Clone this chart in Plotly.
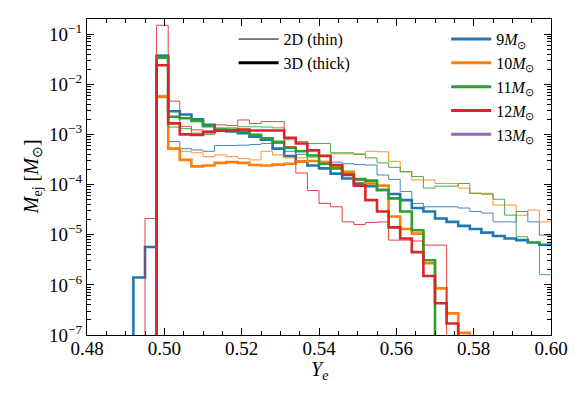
import numpy as np
import plotly.graph_objects as go

# Ye bin edges (0.003 wide) shared by all histograms
ye_edges = np.linspace(0.48, 0.60, 41)

# ejecta mass per Ye bin [Msun]; 0 = empty bin
m9_2d = [0, 0, 0, 0, 0, 0, 3.8e-2, 7.2e-4, 5.2e-4, 4.9e-4, 4.6e-4, 6.0e-4, 6.0e-4, 6.1e-4,
         6.3e-4, 6.6e-4, 6.6e-4, 4.6e-4, 4.0e-4, 3.0e-4, 2.9e-4, 2.8e-4, 2.6e-4, 2.5e-4,
         2.45e-4, 1.55e-4, 1.27e-4, 7.3e-5, 4.2e-5, 3.6e-5, 3.6e-5, 3.6e-5, 3.4e-5, 2.9e-5,
         2.7e-5, 1.8e-5, 1.8e-5, 2.9e-5, 1.8e-5, 9.8e-6]
m9_3d = [0, 0, 0, 0, 1.4e-6, 5.7e-6, 3.7e-2, 2.9e-3, 2.5e-3, 2.0e-3, 1.55e-3, 1.23e-3, 1.14e-3,
         1.06e-3, 9.0e-4, 7.8e-4, 5.2e-4, 3.7e-4, 2.9e-4, 2.4e-4, 2.1e-4, 1.65e-4, 1.32e-4,
         1.05e-4, 9.3e-5, 7.8e-5, 6.5e-5, 4.9e-5, 3.4e-5, 2.9e-5, 2.1e-5, 1.8e-5, 1.5e-5,
         1.3e-5, 1.1e-5, 9.4e-6, 8.4e-6, 7.8e-6, 7.0e-6, 6.3e-6]
m10_2d = [0, 0, 0, 0, 0, 0, 6.0e-3, 5.4e-4, 4.6e-4, 4.3e-4, 3.6e-4, 3.9e-4, 3.6e-4, 3.3e-4,
          3.1e-4, 4.6e-4, 3.9e-4, 3.4e-4, 3.4e-4, 3.5e-4, 3.9e-4, 4.1e-4, 4.1e-4, 4.1e-4,
          4.6e-4, 4.5e-4, 2.9e-4, 1.8e-4, 1.23e-4, 1.23e-4, 1.05e-4, 1.05e-4, 8.5e-5, 6.7e-5,
          6.7e-5, 3.9e-5, 3.9e-5, 2.45e-5, 3.1e-5, 1.8e-5]
m10_3d = [0, 0, 0, 0, 0, 0, 5.6e-3, 5.2e-4, 3.1e-4, 2.3e-4, 2.4e-4, 2.7e-4, 2.8e-4, 2.7e-4,
          2.45e-4, 2.4e-4, 2.5e-4, 2.6e-4, 2.9e-4, 2.95e-4, 2.8e-4, 2.3e-4, 1.8e-4, 1.23e-4,
          1.05e-4, 9.5e-5, 2.3e-5, 1.3e-5, 1.05e-5, 2.7e-6, 8.5e-7, 2.7e-7, 1.1e-7, 0,
          0, 0, 0, 0, 0, 0]
m11_2d = [0, 0, 0, 0, 0, 0, 3.4e-2, 1.4e-3, 1.3e-3, 1.06e-3, 1.0e-3, 1.35e-3, 1.35e-3, 1.42e-3,
          1.42e-3, 1.4e-3, 1.35e-3, 7.8e-4, 7.2e-4, 6.6e-4, 6.6e-4, 4.3e-4, 4.3e-4, 4.0e-4,
          3.4e-4, 2.7e-4, 2.2e-4, 1.8e-4, 1.45e-4, 8.5e-5, 9.3e-5, 9.3e-5, 1.05e-4, 6.7e-5,
          6.4e-5, 5.1e-5, 2.45e-5, 9.1e-6, 7.0e-6, 1.6e-6]
m11_3d = [0, 0, 0, 0, 0, 0, 3.4e-2, 2.25e-3, 2.1e-3, 1.85e-3, 1.45e-3, 1.23e-3, 1.23e-3,
          1.14e-3, 9.8e-4, 8.4e-4, 7.1e-4, 5.4e-4, 4.6e-4, 3.8e-4, 2.6e-4, 2.1e-4, 1.6e-4,
          1.28e-4, 1.2e-4, 7.8e-5, 5.3e-5, 2.9e-5, 1.23e-5, 3.1e-6, 0, 0, 0, 0,
          0, 0, 0, 0, 0, 0]
m12_2d = [0, 0, 0, 0, 0, 2.1e-5, 1.5e-1, 4.6e-3, 1.45e-3, 1.23e-3, 1.18e-3, 1.55e-3, 1.5e-3,
          1.94e-3, 1.65e-3, 1.8e-3, 1.8e-3, 5.7e-4, 1.7e-4, 7.6e-5, 4.2e-5, 3.6e-5, 1.8e-5,
          1.6e-5, 1.75e-5, 1.8e-5, 7.8e-6, 7.8e-6, 7.5e-6, 6.2e-6, 6.2e-6, 0, 0, 0,
          0, 0, 0, 0, 0, 0]
m12_3d = [0, 0, 0, 0, 0, 0, 2.4e-2, 1.66e-3, 1.0e-3, 9.8e-4, 1.1e-3, 1.18e-3, 1.2e-3, 1.25e-3,
          1.2e-3, 1.2e-3, 1.2e-3, 8.6e-4, 6.6e-4, 4.8e-4, 3.7e-4, 2.45e-4, 1.55e-4, 9.5e-5,
          4.9e-5, 2.9e-5, 1.4e-5, 8.4e-6, 4.5e-6, 1.5e-6, 4.3e-7, 1.7e-7, 0, 0,
          0, 0, 0, 0, 0, 0]

models = ["9", "10", "11", "12", "13"]
colors = ["#1f77b4", "#ff7f0e", "#2ca02c", "#d62728", "#9467bd"]
runs = [(m9_2d, m9_3d), (m10_2d, m10_3d), (m11_2d, m11_3d), (m12_2d, m12_3d)]

FONT = "Liberation Serif"


def step_y(vals):
    # empty bins pushed far below the axis so the step drops out of view
    v = [x if x > 0 else 1e-12 for x in vals]
    return v + [v[-1]]


fig = go.Figure()

for (v2d, v3d), c in zip(runs, colors):
    fig.add_trace(go.Scatter(x=ye_edges, y=step_y(v2d), mode="lines", line_shape="hv",
                             line=dict(color=c, width=1), opacity=0.85, showlegend=False))
    fig.add_trace(go.Scatter(x=ye_edges, y=step_y(v3d), mode="lines", line_shape="hv",
                             line=dict(color=c, width=2.6), showlegend=False))

# legend: line style
fig.add_trace(go.Scatter(x=[None], y=[None], mode="lines", name="2D (thin)",
                         line=dict(color="black", width=1), legend="legend"))
fig.add_trace(go.Scatter(x=[None], y=[None], mode="lines", name="3D (thick)",
                         line=dict(color="black", width=3), legend="legend"))
# legend: progenitor mass
for m, c in zip(models, colors):
    fig.add_trace(go.Scatter(x=[None], y=[None], mode="lines",
                             name=f"{m}<i>M</i><sub>⊙</sub>",
                             line=dict(color=c, width=3), legend="legend2"))

decades = [1e-7, 1e-6, 1e-5, 1e-4, 1e-3, 1e-2, 1e-1]
minor_y = [k * d for d in decades[:-1] for k in range(2, 10)] + [0.2]

# the html page adds an 8px body margin, so the figure is a bit smaller than the window
fig.update_layout(
    width=573, height=387,
    margin=dict(l=79, r=30, t=11, b=60),
    paper_bgcolor="white", plot_bgcolor="white",
    font=dict(family=FONT, size=19, color="black"),
    legend=dict(x=0.316, y=0.99, xanchor="left", yanchor="top", bgcolor="rgba(0,0,0,0)",
                font=dict(size=16), tracegroupgap=0, itemwidth=40),
    legend2=dict(x=0.774, y=0.99, xanchor="left", yanchor="top", bgcolor="rgba(0,0,0,0)",
                 font=dict(size=16), tracegroupgap=0, itemwidth=40),
    annotations=[
        dict(text="<i>M</i><sub>ej</sub> [<i>M</i><sub>⊙</sub>]", xref="paper", yref="paper",
             x=-0.118, y=0.5, xanchor="center", yanchor="middle", textangle=-90,
             showarrow=False, font=dict(size=20)),
        dict(text="<i>Y</i><sub><i>e</i></sub>", xref="paper", yref="paper",
             x=0.5, y=-0.112, xanchor="center", yanchor="middle",
             showarrow=False, font=dict(size=20)),
    ],
)

fig.update_xaxes(
    range=[0.48, 0.60], showgrid=False, zeroline=False,
    showline=True, linecolor="black", linewidth=1.2, mirror="ticks",
    ticks="inside", ticklen=7, tickwidth=1, tickcolor="black", ticklabelstandoff=-4,
    tickvals=[0.48, 0.50, 0.52, 0.54, 0.56, 0.58, 0.60],
    ticktext=["0.48", "0.50", "0.52", "0.54", "0.56", "0.58", "0.60"],
    minor=dict(ticks="inside", ticklen=3.5, tickwidth=1, tickcolor="black", dtick=0.005,
               tick0=0.48, showgrid=False),
)
fig.update_yaxes(
    type="log", range=[-7, np.log10(0.2)], showgrid=False, zeroline=False,
    showline=True, linecolor="black", linewidth=1.2, mirror="ticks",
    ticks="inside", ticklen=7, tickwidth=1, tickcolor="black",
    tickvals=decades,
    ticktext=[f"10<sup>−{k}</sup>" for k in range(7, 0, -1)],
    minor=dict(ticks="inside", ticklen=3.5, tickwidth=1, tickcolor="black",
               tickvals=minor_y, showgrid=False),
)

fig.write_html("out.html")
